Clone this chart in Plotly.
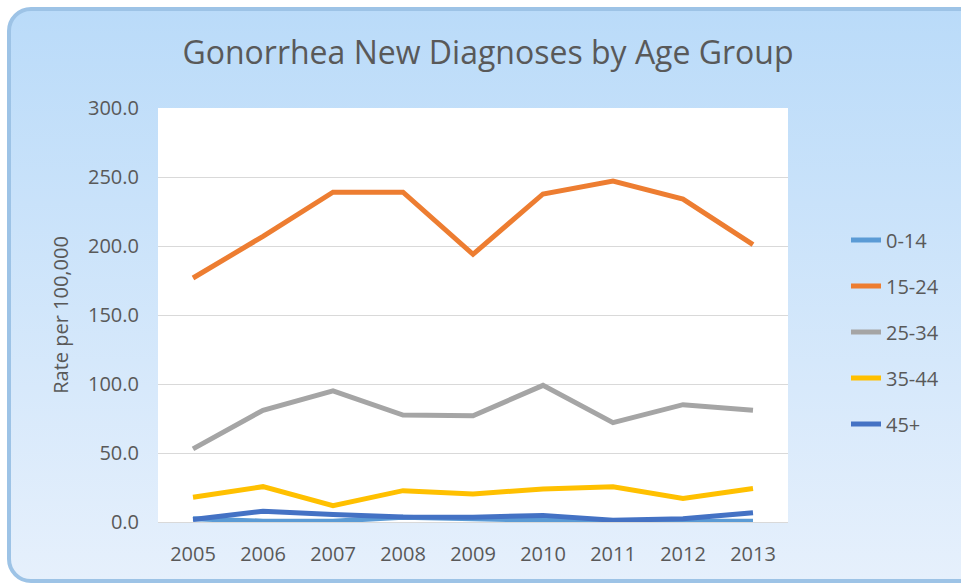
import base64
import plotly.graph_objects as go

# data
years = ['2005', '2006', '2007', '2008', '2009', '2010', '2011', '2012', '2013']
age_groups = ['0-14', '15-24', '25-34', '35-44', '45+']
rate_0_14 = [2.3, 0.6, 0.6, 3.5, 2.3, 1.6, 0.3, 0.6, 0.6]
rate_15_24 = [176.8, 207.0, 239.0, 239.0, 194.0, 237.7, 247.0, 234.0, 201.0]
rate_25_34 = [53.0, 81.0, 95.0, 77.5, 77.0, 99.0, 72.0, 85.0, 81.0]
rate_35_44 = [17.9, 25.6, 11.8, 22.7, 20.3, 23.9, 25.6, 17.1, 24.2]
rate_45_plus = [1.8, 7.8, 5.4, 3.7, 3.5, 4.8, 1.3, 2.3, 6.7]

series = [rate_0_14, rate_15_24, rate_25_34, rate_35_44, rate_45_plus]
colors = ['#5b9bd5', '#ed7d31', '#a5a5a5', '#ffc000', '#4472c4']

W, H = 961, 584
L, T = 158, 108
pw, ph = 630, 414
R, B = W - L - pw, H - T - ph

# rounded card with a vertical gradient plus the white plot area
svg = f'''<svg xmlns="http://www.w3.org/2000/svg" width="{W}" height="{H}" viewBox="0 0 {W} {H}" preserveAspectRatio="none">
<defs><linearGradient id="g" x1="0" y1="0" x2="0" y2="1">
<stop offset="0" stop-color="#badbf9"/><stop offset="1" stop-color="#e6f0fc"/></linearGradient></defs>
<rect x="9" y="9" width="1000" height="572" rx="22" ry="22" fill="url(#g)" stroke="#9dc3e6" stroke-width="4"/>
<rect x="{L}" y="{T}" width="{pw}" height="{ph}" fill="white"/>
</svg>'''
svg_uri = 'data:image/svg+xml;base64,' + base64.b64encode(svg.encode()).decode()

fig = go.Figure()
for name, vals, col in zip(age_groups, series, colors):
    fig.add_trace(go.Scatter(
        x=years, y=vals, name=name, mode='lines', legendgroup=name,
        line=dict(color=col, width=5)))

font_col = '#595959'
fig.update_layout(
    width=W, height=H,
    margin=dict(l=L, r=R, t=T, b=B),
    paper_bgcolor='white',
    plot_bgcolor='rgba(0,0,0,0)',
    font=dict(family='Open Sans', size=20, color=font_col),
    title=dict(text='Gonorrhea New Diagnoses by Age Group', x=(488 - L) / pw, xanchor='center',
               xref='paper', y=1 - 53 / H, yanchor='middle',
               font=dict(size=32, color=font_col)),
    xaxis=dict(type='category', range=[-0.5, 8.5], showgrid=False,
               showline=True, linecolor='#d9d9d9', linewidth=1,
               ticks='', ticklabelstandoff=14, tickfont=dict(size=20, color=font_col)),
    yaxis=dict(range=[0, 300], dtick=50, tickformat='.1f',
               gridcolor='#d9d9d9', gridwidth=1, zeroline=False,
               ticks='', ticklabelstandoff=18, tickfont=dict(size=20, color=font_col),
               title=dict(text='Rate per 100,000', standoff=14,
                          font=dict(size=20, color=font_col))),
    legend=dict(x=(846 - L) / pw, xanchor='left', y=(T + ph - 332) / ph, yanchor='middle',
                tracegroupgap=17, bgcolor='rgba(0,0,0,0)',
                font=dict(size=20, color=font_col)),
    images=[dict(source=svg_uri, xref='paper', yref='paper',
                 x=-L / pw, y=1 + T / ph, sizex=W / pw, sizey=H / ph,
                 xanchor='left', yanchor='top', sizing='stretch', layer='below')],
)

# drop the default page margin and scrollbars so the figure fills the window
page_fix = ("document.body.style.margin='0';"
            "document.body.style.overflow='hidden';"
            "document.documentElement.style.overflow='hidden';")
fig.write_html('out.html', config={'displayModeBar': False}, post_script=page_fix)
